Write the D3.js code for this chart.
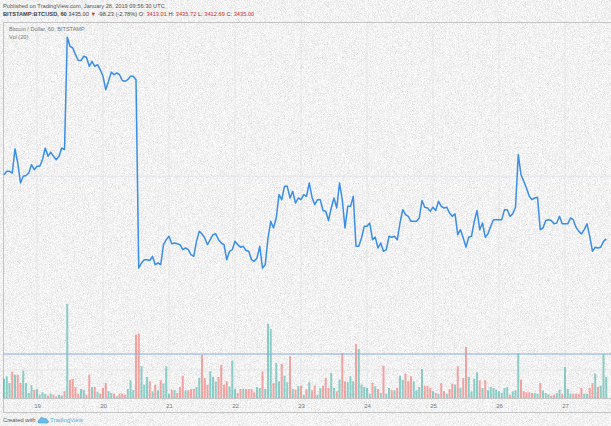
<!DOCTYPE html>
<html>
<head>
<meta http-equiv="Content-Type" content="text/html; charset=utf-8">
<script src="https://cdnjs.cloudflare.com/ajax/libs/d3/7.8.5/d3.min.js"></script>
<style>
  body { margin: 0; background: #e6e6e6; }
  text { font-family: "Liberation Sans", Arial, sans-serif; }
</style>
</head>
<body>
<div id="chart"></div>
<script type="text/javascript">

// ---------------------------------------------------- DATA
// hourly closes, BITSTAMP:BTCUSD, from Jan 18 12:00 UTC
var prices = [3512,3516,3516,3514,3543,3526,3502,3510,3511,3514,
  3524,3518,3522,3522,3530,3544,3534,3539,3534,3530,
  3534,3544,3542,3677,3666,3664,3656,3649,3649,3654,
  3653,3642,3648,3642,3644,3638,3630,3614,3624,3635,
  3632,3634,3632,3625,3624,3626,3630,3630,3626,3400,
  3406,3410,3410,3409,3414,3404,3406,3404,3428,3434,
  3438,3429,3430,3429,3428,3422,3424,3422,3416,3414,
  3432,3444,3441,3436,3428,3434,3440,3441,3434,3430,
  3428,3410,3420,3422,3432,3428,3425,3426,3421,3420,
  3410,3408,3412,3426,3400,3404,3436,3456,3448,3460,
  3488,3482,3498,3498,3484,3492,3478,3484,3482,3488,
  3486,3502,3485,3476,3482,3482,3469,3468,3457,3472,
  3484,3472,3502,3482,3448,3474,3474,3486,3426,3426,
  3436,3450,3450,3454,3434,3437,3424,3430,3420,3422,
  3438,3437,3438,3434,3454,3470,3464,3462,3456,3456,
  3456,3460,3481,3473,3472,3468,3473,3469,3480,3474,
  3472,3473,3466,3462,3465,3440,3446,3436,3425,3437,
  3438,3456,3469,3446,3454,3437,3441,3450,3458,3458,
  3458,3458,3470,3470,3462,3465,3473,3536,3512,3504,
  3496,3486,3482,3484,3485,3446,3448,3457,3458,3457,
  3453,3454,3462,3453,3453,3453,3460,3458,3449,3444,
  3441,3446,3453,3438,3420,3425,3424,3425,3432,3435];

var volumes = [193,217,150,263,233,233,150,273,150,50,
  130,83,90,33,57,40,23,43,33,17,
  33,25,67,943,183,190,110,43,90,83,
  33,233,110,110,63,43,100,150,67,50,
  43,17,43,43,33,90,177,77,633,643,
  317,133,210,167,67,133,77,177,143,317,
  43,83,77,50,110,223,77,77,90,90,
  110,200,433,200,133,267,210,167,210,333,
  133,167,117,373,90,50,90,90,90,90,
  90,57,110,100,267,90,743,690,150,350,
  167,340,223,157,417,90,83,117,123,33,
  90,157,77,123,33,100,123,200,100,250,
  100,67,183,450,167,157,217,167,540,490,
  133,110,100,43,150,117,90,50,323,43,
  100,77,77,100,223,183,243,167,217,167,
  77,110,290,123,123,100,67,50,43,150,
  67,43,90,143,133,317,100,200,510,210,
  67,190,257,177,100,177,77,110,100,83,
  67,50,100,110,33,67,77,450,183,67,
  57,57,50,50,43,150,77,50,33,23,
  33,50,83,43,310,90,43,43,43,43,
  100,43,43,100,150,243,110,123,443,210];

var volumeLevel = 440;

var startTime = Date.UTC(2019, 0, 18, 12);
var hour = 3600 * 1000;

var publishedText = "Published on TradingView.com, January 28, 2019 09:56:30 UTC";
var symbolText = "BITSTAMP:BTCUSD, 60";
var lastText = "3435.00";
var changeText = "-98.23 (-2.78%)";
var ohlcLabels = ["O:", "H:", "L:", "C:"];
var ohlcValues = ["3413.01", "3435.72", "3412.69", "3435.00"];
var paneTitle = "Bitcoin / Dollar, 60, BITSTAMP";
var volTitle = "Vol (20)";

// ---------------------------------------------------- SVG
var width = 611;
var height = 426;

var svg = d3.select("#chart")
  .append("svg")
  .attr("width", width)
  .attr("height", height);

// grainy grey background like the snapshot
var defs = svg.append("defs");
var noise = defs.append("filter").attr("id", "noise")
  .attr("x", 0).attr("y", 0).attr("width", "100%").attr("height", "100%");
noise.append("feTurbulence")
  .attr("type", "fractalNoise")
  .attr("baseFrequency", 1.3)
  .attr("numOctaves", 2)
  .attr("seed", 3)
  .attr("stitchTiles", "stitch");
noise.append("feColorMatrix")
  .attr("type", "matrix")
  .attr("values", "0.3 0.3 0.3 0 0.44  0.3 0.3 0.3 0 0.44  0.3 0.3 0.3 0 0.44  0 0 0 0 1");

svg.append("rect").attr("width", width).attr("height", height).attr("fill", "#e6e6e6");
svg.append("rect").attr("width", width).attr("height", height)
  .attr("filter", "url(#noise)");

// ---------------------------------------------------- SCALES
var times = prices.map(function(d, i){ return new Date(startTime + i * hour); });

var x = d3.scaleUtc()
  .domain([times[0], times[times.length - 1]])
  .range([4, 606.25]);

var y = d3.scaleLinear()
  .domain([3400, 3670])
  .range([268, 43]);

var yVol = d3.scaleLinear()
  .domain([0, 1000])
  .range([398, 298]);

// ---------------------------------------------------- FRAME + GRID
var frame = svg.append("g");

var days = x.ticks(d3.utcDay.every(1));

frame.selectAll("line.vgrid")
  .data(days)
  .enter()
  .append("line")
  .attr("class", "vgrid")
  .attr("x1", function(d){ return x(d); })
  .attr("x2", function(d){ return x(d); })
  .attr("y1", 22)
  .attr("y2", 398)
  .attr("stroke", "#d8dce2")
  .attr("stroke-opacity", 0.5)
  .attr("stroke-width", 1);

frame.selectAll("line.hgrid")
  .data([3510])
  .enter()
  .append("line")
  .attr("class", "hgrid")
  .attr("x1", 3).attr("x2", width)
  .attr("y1", function(d){ return y(d); })
  .attr("y2", function(d){ return y(d); })
  .attr("stroke", "#d8dce2")
  .attr("stroke-opacity", 0.5);

frame.append("line").attr("x1", 3).attr("x2", width).attr("y1", 370).attr("y2", 370)
  .attr("stroke", "#d8dce2").attr("stroke-opacity", 0.5);

frame.append("rect")
  .attr("x", 3.5).attr("y", 22.5)
  .attr("width", width - 3).attr("height", 390)
  .attr("fill", "none")
  .attr("stroke", "#c4c4c4");

frame.append("line").attr("x1", 3).attr("x2", width).attr("y1", 398.5).attr("y2", 398.5)
  .attr("stroke", "#c4c4c4");

// ---------------------------------------------------- VOLUME
var vol = svg.append("g");

vol.selectAll("rect")
  .data(volumes)
  .enter()
  .append("rect")
  .attr("x", function(d, i){ return x(times[i]) - 1; })
  .attr("y", function(d){ return yVol(d); })
  .attr("width", 2)
  .attr("height", function(d){ return yVol(0) - yVol(d); })
  .attr("fill", function(d, i){
    var up = i == 0 ? true : prices[i] >= prices[i - 1];
    return up ? "#26a69a" : "#ef5350";
  })
  .attr("fill-opacity", 0.5);

vol.append("line")
  .attr("x1", 3).attr("x2", width)
  .attr("y1", yVol(volumeLevel)).attr("y2", yVol(volumeLevel))
  .attr("stroke", "#86aee6")
  .attr("stroke-width", 1);

// ---------------------------------------------------- PRICE LINE
var line = d3.line()
  .x(function(d, i){ return x(times[i]); })
  .y(function(d){ return y(d); });

svg.append("path")
  .datum(prices)
  .attr("d", line)
  .attr("fill", "none")
  .attr("stroke", "#3a8ee6")
  .attr("stroke-width", 1.5)
  .attr("stroke-linejoin", "round");

// ---------------------------------------------------- TIME AXIS
var xAxis = d3.axisBottom(x)
  .tickValues(days)
  .tickFormat(d3.utcFormat("%-d"))
  .tickSize(0)
  .tickPadding(5);

var gx = svg.append("g")
  .attr("transform", "translate(0,399)")
  .call(xAxis);
gx.select(".domain").remove();
gx.selectAll("text")
  .attr("fill", "#777")
  .style("font-size", "6px");

// ---------------------------------------------------- TEXTS
svg.append("text")
  .attr("x", 3).attr("y", 7.5)
  .attr("fill", "#555")
  .style("font-size", "5.7px")
  .text(publishedText);

var head = svg.append("text")
  .attr("x", 3).attr("y", 15.5)
  .attr("fill", "#444")
  .style("font-size", "5.7px");
head.append("tspan").attr("font-weight", "bold").text(symbolText + " ");
head.append("tspan").text(lastText + " ");
head.append("tspan").attr("fill", "#d32f2f").text("\u25BC");
head.append("tspan").text(" " + changeText + " ");
ohlcLabels.forEach(function(l, i){
  head.append("tspan").text(l + " ");
  head.append("tspan").attr("fill", "#d32f2f").text(ohlcValues[i] + " ");
});

svg.append("text")
  .attr("x", 9).attr("y", 31)
  .attr("fill", "#777")
  .style("font-size", "5.6px")
  .text(paneTitle);

svg.append("text")
  .attr("x", 9).attr("y", 38.5)
  .attr("fill", "#777")
  .style("font-size", "5.6px")
  .text(volTitle);

svg.append("text")
  .attr("x", 3).attr("y", 422)
  .attr("fill", "#555")
  .style("font-size", "5.8px")
  .text("Created with");

// small cloud logo
var logo = svg.append("g").attr("transform", "translate(38,416)");
logo.append("path")
  .attr("d", "M1,7 C-0.5,7 -0.5,4 1.5,4 C1.5,1.5 5,0.5 6,3 C7,1.8 9.5,2.5 9,4.5 C11,4.5 11,7 9,7 Z")
  .attr("fill", "#6cbbe8")
  .attr("stroke", "#3d9bd8")
  .attr("stroke-width", 0.6);

svg.append("text")
  .attr("x", 50).attr("y", 422)
  .attr("fill", "#5aaee0")
  .style("font-size", "6px")
  .text("TradingView");

</script>
</body>
</html>
